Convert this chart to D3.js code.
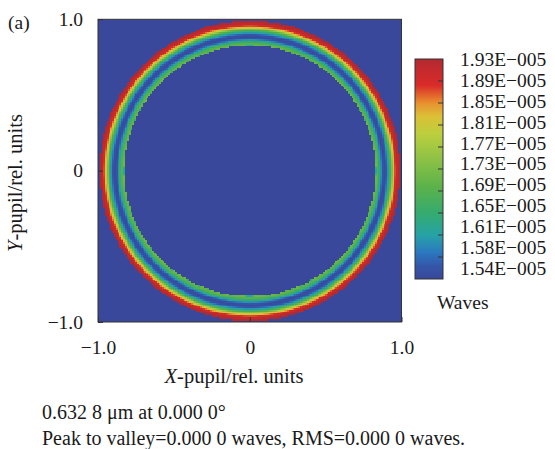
<!DOCTYPE html>
<html><head><meta charset="utf-8">
<script src="https://cdn.jsdelivr.net/npm/d3@7"></script>
<style>
html,body{margin:0;padding:0;background:#fff;}
text{font-family:"Liberation Serif","Times New Roman",serif;fill:#1a1a1a;}
</style></head>
<body>
<svg id="chart" width="555" height="449"></svg>
<script>
// ---- data ----
const xTickValues = [-1, 0, 1];
const xTickLabels = ["\u22121.0", "0", "1.0"];
const yTickValues = [-1, 0, 1];
const yTickLabels = ["\u22121.0", "0", "1.0"];
const colorbarLabels = ["1.93E\u2212005","1.89E\u2212005","1.85E\u2212005","1.81E\u2212005","1.77E\u2212005","1.73E\u2212005","1.69E\u2212005","1.65E\u2212005","1.61E\u2212005","1.58E\u2212005","1.54E\u2212005"];
const valueMin = 1.54, valueMax = 1.93; // E-005 waves
// radial profile of the wavefront map (normalized pupil radius -> value E-005)
const profileRadius = [0.000, 0.829, 0.830, 0.845, 0.858, 0.870, 0.885, 0.900, 0.915, 0.930, 0.942, 0.952, 0.962, 0.975, 0.990, 0.9901, 1.50];
const profileValue  = [1.54,  1.54,  1.72,  1.69,  1.64,  1.58,  1.54,  1.56,  1.62,  1.70,  1.78,  1.84,  1.89,  1.92,  1.93,  1.54,   1.54];
const pupilRadius = 0.99;
const gridN = 170;
// colormap stops (fraction of range -> colour)
const cmapStops = [0, 0.06, 0.12, 0.20, 0.30, 0.42, 0.55, 0.66, 0.74, 0.80, 0.88, 0.96, 1];
const cmapColors = ["#39489b","#3456a8","#2b78c0","#26a3a6","#35ab6e","#5cb24a","#8fc245","#bccf3d","#dcbf36","#e8902f","#da2b29","#c02a2e","#b0292f"];

// ---- layout ----
const svg = d3.select("#chart");
const plot = {x0: 98, x1: 401.5, y0: 19.3, y1: 322};
const x = d3.scaleLinear().domain([-1, 1]).range([plot.x0, plot.x1]);
const y = d3.scaleLinear().domain([-1, 1]).range([plot.y1, plot.y0]);
const color = d3.scaleLinear().domain(cmapStops.map(s => valueMin + s*(valueMax-valueMin))).range(cmapColors).clamp(true);
const profile = d3.scaleLinear().domain(profileRadius).range(profileValue).clamp(true);

// background (min value)
svg.append("rect").attr("x", plot.x0).attr("y", plot.y0)
  .attr("width", plot.x1-plot.x0).attr("height", plot.y1-plot.y0)
  .attr("fill", color(valueMin));

// cells
const cells = [];
const step = 2 / gridN;
for (let i = 0; i < gridN; i++) {
  for (let j = 0; j < gridN; j++) {
    const cx = -1 + (i + 0.5) * step, cy = -1 + (j + 0.5) * step;
    const r = Math.hypot(cx, cy);
    if (r > pupilRadius) continue;
    const v = profile(r);
    if (v > valueMin + 0.001) cells.push({cx, cy, v});
  }
}
svg.append("g").attr("shape-rendering", "crispEdges")
  .selectAll("rect").data(cells).join("rect")
  .attr("x", d => x(d.cx - step/2))
  .attr("y", d => y(d.cy + step/2))
  .attr("width", x(step) - x(0) + 0.4)
  .attr("height", y(0) - y(step) + 0.4)
  .attr("fill", d => color(d.v));

// border
svg.append("rect").attr("x", plot.x0).attr("y", plot.y0)
  .attr("width", plot.x1-plot.x0).attr("height", plot.y1-plot.y0)
  .attr("fill", "none").attr("stroke", "#333").attr("stroke-width", 1);

// axes
const xAxis = d3.axisBottom(x).tickValues(xTickValues)
  .tickFormat((d, i) => xTickLabels[i]).tickSize(-5).tickPadding(18);
const gx = svg.append("g").attr("transform", `translate(0,${plot.y1})`).call(xAxis);
const yAxis = d3.axisLeft(y).tickValues(yTickValues)
  .tickFormat((d, i) => yTickLabels[i]).tickSize(-5).tickPadding(15);
const gy = svg.append("g").attr("transform", `translate(${plot.x0},0)`).call(yAxis);
[gx, gy].forEach(g => {
  g.select(".domain").remove();
  g.selectAll(".tick line").attr("stroke", "#333");
  g.selectAll(".tick text").attr("font-family", "Liberation Serif").attr("font-size", 19.5).attr("fill", "#1a1a1a");
});

// axis titles
const xt = svg.append("text").attr("x", 234).attr("y", 383).attr("text-anchor", "middle").attr("font-size", 20.5);
xt.append("tspan").attr("font-style", "italic").text("X");
xt.append("tspan").text("-pupil/rel. units");
const yt = svg.append("text").attr("transform", "translate(22,183) rotate(-90)").attr("text-anchor", "middle").attr("font-size", 20.5);
yt.append("tspan").attr("font-style", "italic").text("Y");
yt.append("tspan").text("-pupil/rel. units");

svg.append("text").attr("x", 8).attr("y", 29).attr("font-size", 19.5).text("(a)");

// colorbar
const cb = {x: 415, y0: 59, y1: 279, w: 28};
const defs = svg.append("defs");
const grad = defs.append("linearGradient").attr("id", "cbgrad").attr("x1", 0).attr("y1", 1).attr("x2", 0).attr("y2", 0);
grad.selectAll("stop").data(cmapStops).join("stop")
  .attr("offset", d => d).attr("stop-color", (d, i) => cmapColors[i]);
svg.append("rect").attr("x", cb.x).attr("y", cb.y0).attr("width", cb.w).attr("height", cb.y1 - cb.y0)
  .attr("fill", "url(#cbgrad)").attr("stroke", "#333").attr("stroke-width", 1);
const cbTick = d3.scaleLinear().domain([0, 10]).range([cb.y0, cb.y1]);
svg.append("g").selectAll("line").data(d3.range(1, 10)).join("line")
  .attr("x1", cb.x + cb.w - 5).attr("x2", cb.x + cb.w)
  .attr("y1", d => cbTick(d)).attr("y2", d => cbTick(d))
  .attr("stroke", "#333").attr("stroke-width", 1);
const cbLabel = d3.scalePoint().domain(colorbarLabels).range([59.5, 268.5]);
svg.append("g").selectAll("text").data(colorbarLabels).join("text")
  .attr("x", 460).attr("y", d => cbLabel(d)).attr("dy", "0.33em")
  .attr("font-size", 19.5).text(d => d);
svg.append("text").attr("x", 437).attr("y", 309).attr("font-size", 19.5).text("Waves");

// footer
svg.append("text").attr("x", 42).attr("y", 419).attr("font-size", 20).text("0.632 8 \u03bcm at 0.000 0\u00b0");
svg.append("text").attr("x", 42).attr("y", 445).attr("font-size", 20).text("Peak to valley=0.000 0 waves, RMS=0.000 0 waves.");
</script>
</body></html>
